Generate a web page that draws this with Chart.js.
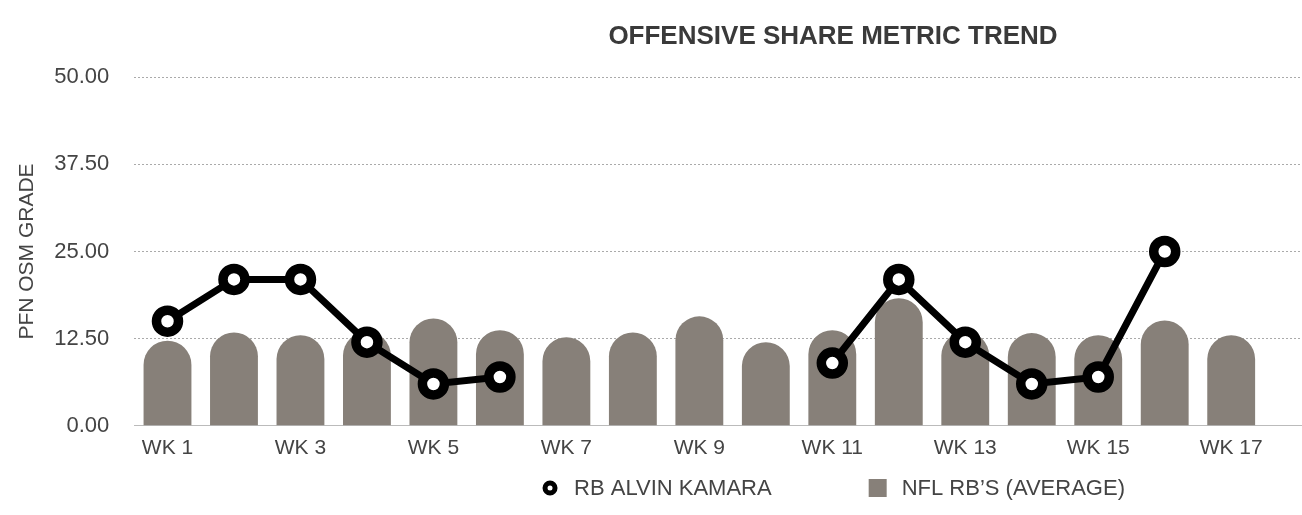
<!DOCTYPE html>
<html>
<head>
<meta charset="utf-8">
<script src="https://cdn.jsdelivr.net/npm/chart.js@4"></script>
<style>
  html, body { margin: 0; padding: 0; background: #fff; overflow: hidden; }
  .wrap { width: 1302px; height: 515px; overflow: hidden; }
</style>
</head>
<body>
<div class="wrap">
  <canvas id="c" width="1651" height="515"></canvas>
</div>
<script>
const weeks = ['WK 1','WK 2','WK 3','WK 4','WK 5','WK 6','WK 7','WK 8','WK 9',
  'WK 10','WK 11','WK 12','WK 13','WK 14','WK 15','WK 16','WK 17'];
const kamara = [15, 21, 21, 12, 6, 7, null, null, null, null, 9, 21, 12, 6, 7, 25, null];
const nflAverage = [12.2, 13.4, 13.0, 13.5, 15.4, 13.7, 12.7, 13.4, 15.7, 12.0,
  13.7, 18.3, 13.5, 13.3, 13.0, 15.1, 13.0];
const yTicks = [0, 12.5, 25, 37.5, 50];
const xTickWeeks = [0, 2, 4, 6, 8, 10, 12, 14, 16];

const textColor = '#444';
const barColor = '#878079';
const FONT = '"Liberation Sans", Arial, sans-serif';
Chart.defaults.font.family = FONT;

// legend drawn by hand so the gap between the two items can be wide
const bottomLegend = {
  id: 'bottomLegend',
  afterDraw(chart) {
    const ctx = chart.ctx;
    const ds = chart.data.datasets;
    const y = 488, mark = 18, textGap = 15, itemGap = 97;
    ctx.save();
    ctx.font = '22px ' + FONT;
    ctx.textBaseline = 'middle';
    ctx.textAlign = 'left';
    const widths = ds.map(d => mark + textGap + ctx.measureText(d.label).width);
    const total = widths.reduce((a, b) => a + b, 0) + itemGap * (ds.length - 1);
    let x = 833 - total / 2;
    ds.forEach((d, i) => {
      const cx = x + mark / 2;
      if (d.type === 'line') {
        ctx.beginPath();
        ctx.arc(cx, y, 5, 0, Math.PI * 2);
        ctx.fillStyle = '#fff';
        ctx.fill();
        ctx.lineWidth = 5;
        ctx.strokeStyle = '#000';
        ctx.stroke();
      } else {
        ctx.fillStyle = d.backgroundColor;
        ctx.fillRect(x, y - mark / 2, mark, mark);
      }
      ctx.fillStyle = textColor;
      ctx.fillText(d.label, x + mark + textGap, y + 1);
      x += widths[i] + itemGap;
    });
    ctx.restore();
  }
};

new Chart(document.getElementById('c'), {
  data: {
    datasets: [
      {
        type: 'line',
        label: 'RB ALVIN KAMARA',
        data: kamara.map((v, i) => ({ x: i, y: v })),
        order: 0,
        borderColor: '#000',
        backgroundColor: '#fff',
        borderWidth: 7,
        pointRadius: 11,
        pointHoverRadius: 11,
        pointBorderWidth: 9.5,
        pointBackgroundColor: '#fff',
        pointBorderColor: '#000',
        spanGaps: false
      },
      {
        type: 'bar',
        label: "NFL RB\u2019S (AVERAGE)",
        data: nflAverage.map((v, i) => ({ x: i, y: v })),
        order: 1,
        backgroundColor: barColor,
        borderWidth: 0,
        borderRadius: 30,
        borderSkipped: 'bottom',
        barPercentage: 0.72,
        categoryPercentage: 1
      }
    ]
  },
  options: {
    responsive: false,
    animation: false,
    layout: { padding: { left: 15, right: 0, top: 0, bottom: 44 } },
    scales: {
      x: {
        type: 'linear',
        min: -0.5,
        max: 17.05,
        offset: false,
        afterBuildTicks: axis => { axis.ticks = xTickWeeks.map(v => ({ value: v })); },
        grid: { display: false, drawTicks: false },
        border: { display: true, color: '#bbb', width: 1 },
        ticks: {
          autoSkip: false,
          maxRotation: 0,
          color: textColor,
          font: { size: 21 },
          padding: 10,
          callback: v => weeks[v]
        }
      },
      y: {
        min: 0,
        max: 50,
        afterBuildTicks: axis => { axis.ticks = yTicks.map(v => ({ value: v })); },
        afterFit: s => { s.width -= 24; },
        grid: {
          color: c => c.tick.value === 0 ? 'rgba(0,0,0,0)' : '#aaa',
          drawTicks: false,
          lineWidth: 1
        },
        border: { display: false, dash: [2, 2] },
        ticks: {
          color: textColor,
          font: { size: 22 },
          padding: 25,
          callback: v => v.toFixed(2)
        },
        title: {
          display: true,
          text: 'PFN OSM GRADE',
          color: textColor,
          font: { size: 21 },
          padding: { top: 0, bottom: 13 }
        }
      },
      spacer: {
        type: 'linear',
        position: 'right',
        display: true,
        grid: { display: false, drawTicks: false },
        border: { display: false },
        ticks: { display: false },
        afterFit: s => { s.width = 350; }
      }
    },
    plugins: {
      title: {
        display: true,
        text: 'OFFENSIVE SHARE METRIC TREND',
        color: '#3a3a3a',
        font: { size: 26, weight: 'bold' },
        padding: { top: 21, bottom: 25 }
      },
      legend: { display: false },
      tooltip: { enabled: false }
    }
  },
  plugins: [bottomLegend]
});
</script>
</body>
</html>
